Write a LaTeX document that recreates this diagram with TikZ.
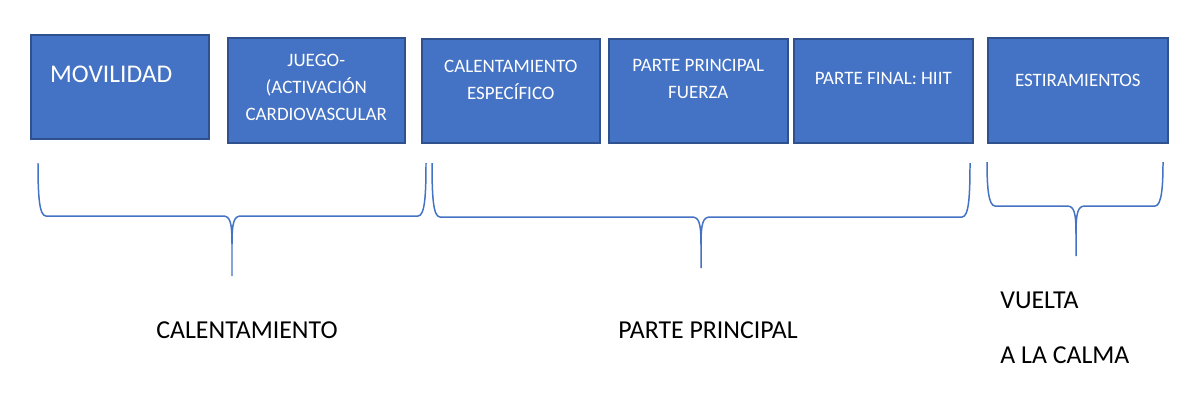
\documentclass[tikz,border=0pt]{standalone}
\usepackage{fontspec}
\setmainfont{Carlito}
\definecolor{azul}{HTML}{4472C4}
\definecolor{borde}{HTML}{2F528F}
\tikzset{
  caja/.style={draw=borde, fill=azul, line width=0.9pt, anchor=north west, inner sep=0pt, minimum height=2.08cm},
  texto/.style={text=white, font=\fontsize{10.8}{15.3}\selectfont, align=center, inner sep=0pt, anchor=north},
  llave/.style={draw=azul, line width=0.85pt},
  rotulo/.style={font=\fontsize{14.7}{17}\selectfont, inner sep=0pt}
}
\begin{document}
\begin{tikzpicture}[x=0.02cm, y=-0.02cm]
    \useasboundingbox (0,0) rectangle (1200,417);
    % bloques de la sesion
    \node[caja, minimum width=3.56cm, label={[texto, font=\fontsize{14.5}{17}\selectfont, anchor=north west, xshift=11.3pt, yshift=-18pt]north west:MOVILIDAD}] (mov) at (30,34) {};
    \node[caja, minimum width=3.54cm, minimum height=2.1cm, label={[texto, yshift=-9.6pt]north:JUEGO-\\(ACTIVACIÓN\\CARDIOVASCULAR}] (jue) at (227,37) {};
    \node[caja, minimum width=3.56cm, label={[texto, yshift=-12.5pt]north:CALENTAMIENTO\\ESPECÍFICO}] (esp) at (421,38) {};
    \node[caja, minimum width=3.58cm, label={[texto, yshift=-11.9pt]north:PARTE PRINCIPAL\\FUERZA}] (fue) at (608,38) {};
    \node[caja, minimum width=3.58cm, label={[texto, yshift=-19.3pt]north:{PARTE FINAL: HIIT}}] (hiit) at (793,38) {};
    \node[caja, minimum width=3.6cm, minimum height=2.1cm, label={[texto, yshift=-21pt]north:ESTIRAMIENTOS}] (est) at (987,37) {};
    % llaves
    \foreach \a/\b/\c/\t/\h/\p in {38/426/232/163/216/276, 432/970/701/163/217/268, 987/1163/1076/162/206/256}{
        \draw[llave] (\a,\t) .. controls (\a,\h-22) and (\a+1,\h) .. (\a+8,\h) -- (\c-9,\h)
            .. controls (\c-2,\h) and (\c,\h+6) .. (\c,\h+28) -- (\c,\p);
        \draw[llave] (\b,\t) .. controls (\b,\h-22) and (\b-1,\h) .. (\b-8,\h) -- (\c+9,\h)
            .. controls (\c+2,\h) and (\c,\h+6) .. (\c,\h+28);
    }
    % fases
    \node[rotulo] (cal) at (247,330) {CALENTAMIENTO};
    \node[rotulo] (pp) at (708,330) {PARTE PRINCIPAL};
    \node[rotulo, anchor=west] (vue) at (1000,300) {VUELTA};
    \node[rotulo, anchor=west] (calma) at (1000,355) {A LA CALMA};
\end{tikzpicture}
\end{document}
